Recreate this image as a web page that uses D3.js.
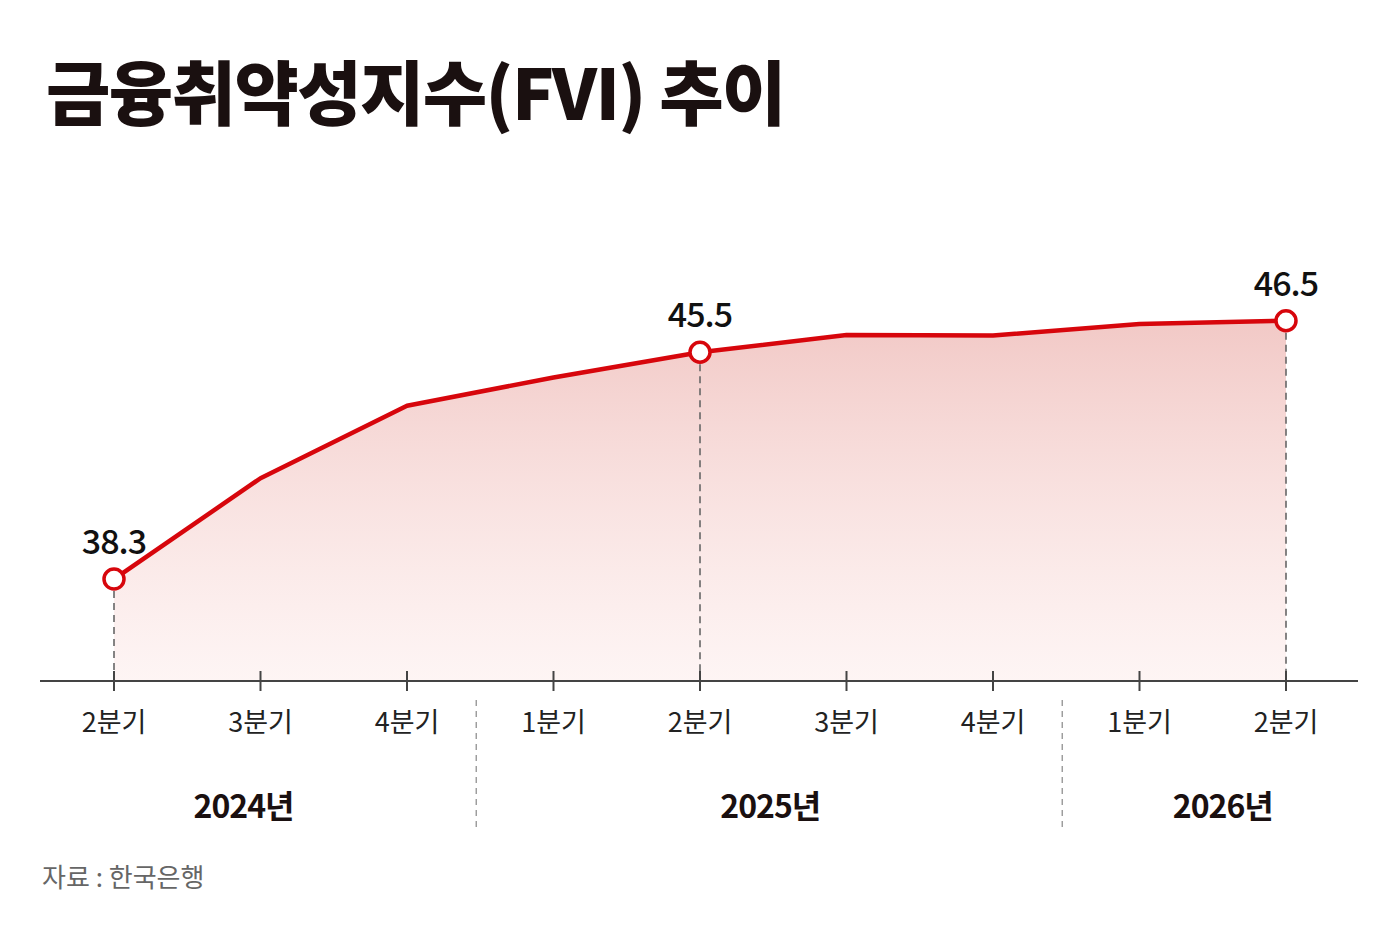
<!DOCTYPE html>
<html>
<head>
<meta charset="utf-8">
<script src="https://cdn.jsdelivr.net/npm/d3@7"></script>
<style>
  body { margin: 0; background: #fff; }
  svg { display: block; font-family: "Noto Sans CJK KR", "Noto Sans", sans-serif; }
</style>
</head>
<body>
<div id="chart-container"></div>
<script>
// quarter keys, tick labels, years and FVI values
const quarters = ["2024Q2", "2024Q3", "2024Q4", "2025Q1", "2025Q2", "2025Q3", "2025Q4", "2026Q1", "2026Q2"];
const quarterLabels = ["2분기", "3분기", "4분기", "1분기", "2분기", "3분기", "4분기", "1분기", "2분기"];
const years = ["2024년", "2025년", "2026년"];
const yearOf = ["2024년", "2024년", "2024년", "2025년", "2025년", "2025년", "2025년", "2026년", "2026년"];
const fvi = [38.3, 41.5, 43.8, 44.7, 45.5, 46.05, 46.03, 46.4, 46.5];
const labelled = [0, 4, 8];

const svgWidth = 1400;
const svgHeight = 933;
const axisY = 681;

const data = quarters.map((q, i) => ({ q: q, label: quarterLabels[i], year: yearOf[i], value: fvi[i] }));

const svg = d3
  .select("#chart-container")
  .append("svg")
  .attr("width", svgWidth)
  .attr("height", svgHeight);

const x = d3.scalePoint().domain(quarters).range([114, 1286]);
const y = d3.scaleLinear().domain([35, 47]).range([683, 305]);

// gradient under the line
const defs = svg.append("defs");
const grad = defs
  .append("linearGradient")
  .attr("id", "area-grad")
  .attr("x1", 0).attr("y1", 0).attr("x2", 0).attr("y2", 1);
grad.append("stop").attr("offset", "0%").attr("stop-color", "#f1c6c3").attr("stop-opacity", 0.95);
grad.append("stop").attr("offset", "100%").attr("stop-color", "#fdeeed").attr("stop-opacity", 0.6);

// title
svg
  .append("text")
  .attr("x", 46)
  .attr("y", 120)
  .attr("font-size", 70)
  .attr("font-weight", 900)
  .attr("fill", "#1a1010")
  .attr("letter-spacing", -1.6)
  .text("금융취약성지수(FVI) 추이");

// area
const area = d3
  .area()
  .x((d) => x(d.q))
  .y0(axisY)
  .y1((d) => y(d.value));

svg.append("path").datum(data).attr("d", area).attr("fill", "url(#area-grad)");

// dashed drop lines for labelled points
svg
  .selectAll(".drop")
  .data(labelled.map((i) => data[i]))
  .enter()
  .append("line")
  .attr("class", "drop")
  .attr("x1", (d) => x(d.q))
  .attr("x2", (d) => x(d.q))
  .attr("y1", (d) => y(d.value))
  .attr("y2", axisY)
  .attr("stroke", "#666")
  .attr("stroke-width", 1.6)
  .attr("stroke-dasharray", "7,5");

// x axis
svg
  .append("line")
  .attr("x1", 40)
  .attr("x2", 1358)
  .attr("y1", axisY)
  .attr("y2", axisY)
  .attr("stroke", "#444")
  .attr("stroke-width", 2);

svg
  .selectAll(".tick")
  .data(data)
  .enter()
  .append("line")
  .attr("class", "tick")
  .attr("x1", (d) => x(d.q))
  .attr("x2", (d) => x(d.q))
  .attr("y1", axisY - 10)
  .attr("y2", axisY + 10)
  .attr("stroke", "#444")
  .attr("stroke-width", 2);

svg
  .selectAll(".tick-label")
  .data(data)
  .enter()
  .append("text")
  .attr("class", "tick-label")
  .attr("x", (d) => x(d.q))
  .attr("y", 732)
  .attr("text-anchor", "middle")
  .attr("font-size", 27)
  .attr("fill", "#222")
  .text((d) => d.label);

// year separators, between last quarter of one year and first of the next
const step = x.step();
const separators = data.filter((d, i) => i > 0 && d.year !== data[i - 1].year);
svg
  .selectAll(".sep")
  .data(separators)
  .enter()
  .append("line")
  .attr("class", "sep")
  .attr("x1", (d) => x(d.q) - step / 2 - 4)
  .attr("x2", (d) => x(d.q) - step / 2 - 4)
  .attr("y1", 700)
  .attr("y2", 830)
  .attr("stroke", "#999")
  .attr("stroke-width", 1.4)
  .attr("stroke-dasharray", "6,5");

// year labels centred on their quarters (nudged like the original)
const yearNudge = { "2024년": -17, "2025년": -3, "2026년": 10 };
svg
  .selectAll(".year")
  .data(years)
  .enter()
  .append("text")
  .attr("class", "year")
  .attr("x", (yr) => d3.mean(data.filter((d) => d.year === yr), (d) => x(d.q)) + yearNudge[yr])
  .attr("y", 818)
  .attr("text-anchor", "middle")
  .attr("font-size", 32)
  .attr("font-weight", 700)
  .attr("fill", "#1a1010")
  .attr("letter-spacing", -1)
  .text((yr) => yr);

// line
const line = d3
  .line()
  .x((d) => x(d.q))
  .y((d) => y(d.value));

svg
  .append("path")
  .datum(data)
  .attr("d", line)
  .attr("fill", "none")
  .attr("stroke", "#d7060c")
  .attr("stroke-width", 4.5)
  .attr("stroke-linejoin", "round");

// markers and value labels
const marked = labelled.map((i) => data[i]);
svg
  .selectAll(".marker")
  .data(marked)
  .enter()
  .append("circle")
  .attr("class", "marker")
  .attr("cx", (d) => x(d.q))
  .attr("cy", (d) => y(d.value))
  .attr("r", 10)
  .attr("fill", "#fff")
  .attr("stroke", "#d7060c")
  .attr("stroke-width", 3.5);

svg
  .selectAll(".value")
  .data(marked)
  .enter()
  .append("text")
  .attr("class", "value")
  .attr("x", (d) => x(d.q))
  .attr("y", (d) => y(d.value) - 25)
  .attr("text-anchor", "middle")
  .attr("font-size", 34)
  .attr("font-weight", 500)
  .attr("fill", "#111")
  .attr("letter-spacing", -1)
  .text((d) => d.value.toFixed(1));

// source
svg
  .append("text")
  .attr("x", 42)
  .attr("y", 887)
  .attr("font-size", 26)
  .attr("fill", "#666")
  .attr("xml:space", "preserve")
  .text("자료 : 한국은행");
</script>
</body>
</html>
